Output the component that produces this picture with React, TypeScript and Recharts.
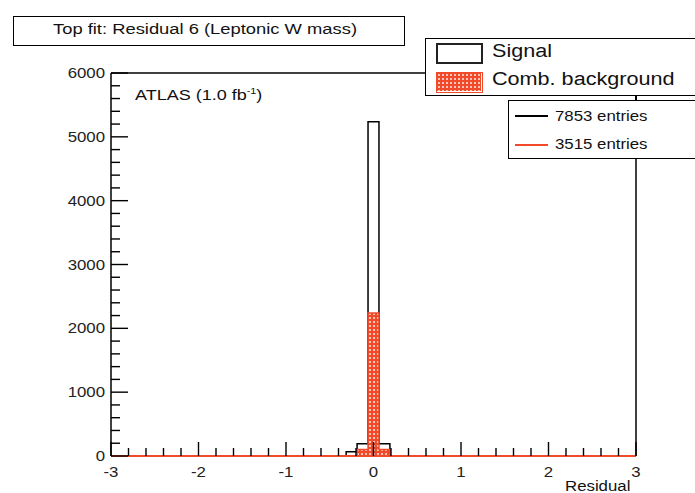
import React from 'react';
import { ComposedChart, Area, XAxis, YAxis, ReferenceLine } from 'recharts';

// histogram bin edges (residual), counts per bin starting at that edge
const binEdges = [-3, -0.3125, -0.1875, -0.0625, 0.0625, 0.1875, 3];
const signalCounts = [0, 65, 190, 5235, 190, 0, 0];
const backgroundCounts = [0, 0, 100, 2241, 100, 0, 0];

const xMajorTicks = [-3, -2, -1, 0, 1, 2, 3];
const xMinorTicks = [
  -2.8, -2.6, -2.4, -2.2, -1.8, -1.6, -1.4, -1.2, -0.8, -0.6, -0.4, -0.2,
  0.2, 0.4, 0.6, 0.8, 1.2, 1.4, 1.6, 1.8, 2.2, 2.4, 2.6, 2.8,
];
const yMajorTicks = [0, 1000, 2000, 3000, 4000, 5000, 6000];
const yMinorTicks = [
  200, 400, 600, 800, 1200, 1400, 1600, 1800, 2200, 2400, 2600, 2800,
  3200, 3400, 3600, 3800, 4200, 4400, 4600, 4800, 5200, 5400, 5600, 5800,
];

const legendItems = ['Signal', 'Comb. background'];
const entryCounts = ['7853 entries', '3515 entries'];

const RED = '#f04a2a';
const FONT = '"Liberation Sans", Arial, sans-serif';

const data = binEdges.map((x, i) => ({
  x,
  signal: signalCounts[i],
  background: backgroundCounts[i],
}));

const XTick = (props: any) => {
  const { x, y, payload } = props;
  const major = xMajorTicks.includes(payload.value);
  return (
    <g>
      <line x1={x} x2={x} y1={y} y2={y - (major ? 14 : 8)} stroke="#000" strokeWidth={1.4} />
      {major && (
        <text
          transform={`translate(${x},${y + 21}) scale(1.2,1)`}
          textAnchor="middle"
          fontSize={14}
          fontFamily={FONT}
          fill="#222"
        >
          {`${payload.value}`}
        </text>
      )}
    </g>
  );
};

const YTick = (props: any) => {
  const { x, y, payload } = props;
  const major = yMajorTicks.includes(payload.value);
  return (
    <g>
      <line x1={x} x2={x + (major ? 17 : 9)} y1={y} y2={y} stroke="#000" strokeWidth={1.4} />
      {major && (
        <text
          transform={`translate(${x - 6},${y + 5}) scale(1.2,1)`}
          textAnchor="end"
          fontSize={14}
          fontFamily={FONT}
          fill="#222"
        >
          {payload.value}
        </text>
      )}
    </g>
  );
};

const boxStyle: React.CSSProperties = {
  position: 'absolute',
  border: '1.5px solid #000',
  background: '#fff',
  boxSizing: 'border-box',
};

const textStyle: React.CSSProperties = {
  position: 'absolute',
  fontFamily: FONT,
  color: '#111',
  whiteSpace: 'nowrap',
  transformOrigin: 'left top',
  transform: 'scaleX(1.2)',
  lineHeight: 1,
};

export default function App() {
  return (
    <div style={{ position: 'absolute', left: 0, top: 0, width: 695, height: 493, overflow: 'hidden', background: '#fff' }}>
      <ComposedChart
        width={695}
        height={493}
        data={data}
        margin={{ top: 73, right: 59, bottom: 0, left: 0 }}
      >
        <defs>
          <pattern id="dots" width="4" height="4" patternUnits="userSpaceOnUse">
            <rect width="4" height="4" fill={RED} />
            <circle cx="2" cy="2" r="0.9" fill="#fff" />
          </pattern>
        </defs>
        <XAxis
          dataKey="x"
          type="number"
          domain={[-3, 3]}
          ticks={[...xMajorTicks, ...xMinorTicks]}
          interval={0}
          height={37}
          tickLine={false}
          tickSize={0}
          tickMargin={0}
          tick={<XTick />}
          axisLine={{ stroke: RED, strokeWidth: 1.8 }}
        />
        <YAxis
          type="number"
          domain={[0, 6000]}
          ticks={[...yMajorTicks, ...yMinorTicks]}
          interval={0}
          width={111}
          tickLine={false}
          tickSize={0}
          tickMargin={0}
          tick={<YTick />}
          axisLine={{ stroke: '#000', strokeWidth: 1.5 }}
        />
        <ReferenceLine y={6000} stroke="#000" strokeWidth={1.5} />
        <ReferenceLine x={3} stroke="#000" strokeWidth={1.5} />
        <Area
          dataKey="signal"
          type="stepAfter"
          stroke="#000"
          strokeWidth={1.5}
          fill="#fff"
          fillOpacity={1}
          dot={false}
          activeDot={false}
          isAnimationActive={false}
        />
        <Area
          dataKey="background"
          type="stepAfter"
          stroke={RED}
          strokeWidth={1.5}
          fill="url(#dots)"
          fillOpacity={1}
          dot={false}
          activeDot={false}
          isAnimationActive={false}
        />
      </ComposedChart>

      {/* title box */}
      <div style={{ ...boxStyle, left: 13, top: 16, width: 392, height: 30 }} />
      <div style={{ ...textStyle, left: 53, top: 21, fontSize: 15.3 }}>Top fit: Residual 6 (Leptonic W mass)</div>

      <div style={{ ...textStyle, left: 135, top: 87, fontSize: 15 }}>
        ATLAS (1.0 fb<sup style={{ fontSize: 9, verticalAlign: 6 }}>-1</sup>)
      </div>

      {/* legend */}
      <div style={{ ...boxStyle, left: 425, top: 38, width: 300, height: 58 }} />
      <div style={{ ...boxStyle, left: 436, top: 43, width: 47, height: 21, border: '2px solid #222' }} />
      <div style={{ ...boxStyle, left: 436, top: 72, width: 47, height: 21, border: `1.5px solid ${RED}`, background: 'transparent' }}>
        <svg width={44} height={18} style={{ display: 'block' }}>
          <rect width={44} height={18} fill="url(#dots)" />
        </svg>
      </div>
      <div style={{ ...textStyle, left: 492, top: 42, fontSize: 18 }}>{legendItems[0]}</div>
      <div style={{ ...textStyle, left: 492, top: 70, fontSize: 18 }}>{legendItems[1]}</div>

      <div style={{ position: 'absolute', left: 635, top: 95, width: 1.5, height: 6, background: '#000' }} />
      <div style={{ ...boxStyle, left: 508, top: 100, width: 300, height: 59 }} />
      <div style={{ position: 'absolute', left: 515, top: 115, width: 33, height: 1.5, background: '#000' }} />
      <div style={{ position: 'absolute', left: 515, top: 144, width: 33, height: 1.5, background: RED }} />
      <div style={{ ...textStyle, left: 555, top: 109, fontSize: 14 }}>{entryCounts[0]}</div>
      <div style={{ ...textStyle, left: 555, top: 137, fontSize: 14 }}>{entryCounts[1]}</div>

      <div style={{ ...textStyle, left: 565, top: 479, fontSize: 14 }}>Residual</div>
    </div>
  );
}
